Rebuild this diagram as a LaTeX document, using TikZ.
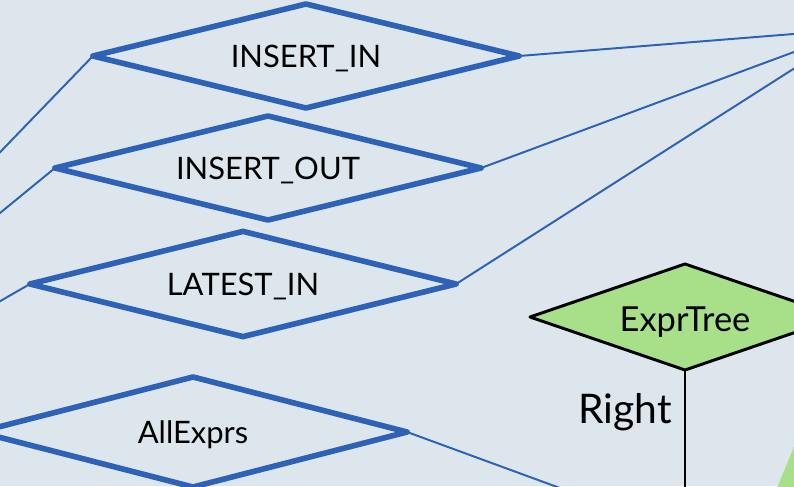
\documentclass[tikz,border=0pt]{standalone}
\usepackage{fontspec}
\setmainfont{Lato}
\usetikzlibrary{shapes.geometric}

\definecolor{panelbg}{HTML}{DDE6ED}
\definecolor{relblue}{HTML}{2E62B6}
\definecolor{exprgreen}{HTML}{A8E08A}

\tikzset{
  relation/.style={diamond, aspect=4, draw=relblue, line width=4pt, line join=round,
    minimum width=10.65cm, minimum height=2.6cm, inner sep=0pt, outer sep=0pt,
    text height=17pt, text depth=0pt, font=\fontsize{22}{26}\selectfont},
  exprnode/.style={diamond, aspect=3, draw=black, fill=exprgreen, line width=2.1pt, line join=round,
    minimum width=7.75cm, minimum height=2.65cm, inner sep=0pt, outer sep=0pt,
    text height=21pt, text depth=0pt, font=\fontsize{24.5}{28}\selectfont},
  link/.style={draw=relblue, line width=1.4pt},
  tree/.style={draw=black, line width=2.1pt},
}

\begin{document}
\begin{tikzpicture}[x=0.025cm,y=-0.025cm]
            \useasboundingbox (0,0) rectangle (794,486);
            \fill[panelbg] (0,0) rectangle (794,486);
            \clip (0,0) rectangle (794,486);

            % far ends of the links, outside the frame
            \coordinate (owner) at (856,29);
            \coordinate (inLeft) at (-50,204);
            \coordinate (outLeft) at (-50,254);
            \coordinate (latLeft) at (-50,330);
            \coordinate (allRight) at (650,521);
            \coordinate (treeEnd) at (685,520);

            % green patch at the lower right
            \fill[exprgreen] (800,432)--(772,500)--(830,500)--cycle;

            \node[relation] (insIn) at (306,56) {INSERT\_IN};
            \node[relation] (insOut) at (268,168) {INSERT\_OUT};
            \node[relation, minimum height=2.63cm] (latIn) at (243,284) {LATEST\_IN};
            \node[relation, minimum width=10.7cm, minimum height=2.75cm] (allEx) at (193,432) {AllExprs};
            \node[exprnode] (exprTree) at (685,317) {ExprTree};

            \draw[link] (insIn.east)--(owner);
            \draw[link] (insOut.east)--(owner);
            \draw[link] (latIn.east)--(owner);
            \draw[link] (insIn.west)--(inLeft);
            \draw[link] (insOut.west)--(outLeft);
            \draw[link] (latIn.west)--(latLeft);
            \draw[link] (allEx.east)--(allRight);

            \draw[tree] (exprTree.south)--(treeEnd);
            \node[anchor=base, font=\fontsize{29}{34}\selectfont] (rightLbl) at (625,423) {Right};
        \end{tikzpicture}
\end{document}
